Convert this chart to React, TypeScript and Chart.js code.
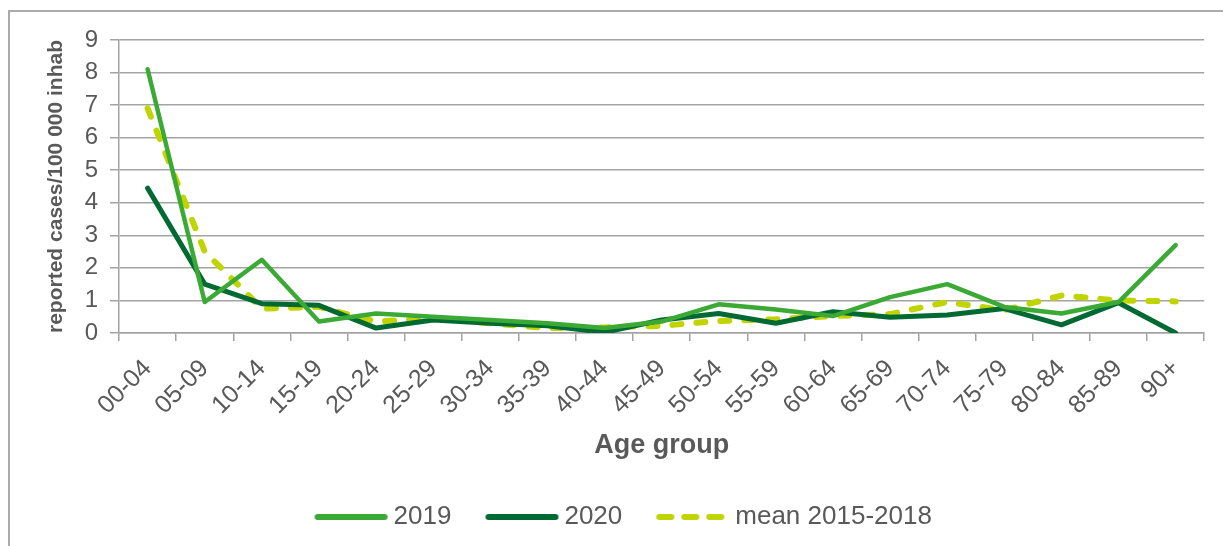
import React, { useEffect, useRef } from 'react';
import { Chart, registerables } from 'chart.js';

Chart.register(...registerables);

const ageGroups = ['00-04', '05-09', '10-14', '15-19', '20-24', '25-29', '30-34', '35-39', '40-44', '45-49', '50-54', '55-59', '60-64', '65-69', '70-74', '75-79', '80-84', '85-89', '90+'];
const cases2019 = [8.1, 0.95, 2.25, 0.35, 0.6, 0.5, 0.4, 0.3, 0.15, 0.35, 0.88, 0.72, 0.52, 1.1, 1.5, 0.8, 0.6, 0.95, 2.7];
const cases2020 = [4.45, 1.5, 0.9, 0.85, 0.15, 0.4, 0.3, 0.22, 0.02, 0.4, 0.6, 0.3, 0.65, 0.48, 0.55, 0.75, 0.25, 0.93, 0];
const mean20152018 = [6.9, 2.5, 0.75, 0.8, 0.35, 0.45, 0.3, 0.15, 0.17, 0.22, 0.37, 0.42, 0.52, 0.58, 0.95, 0.7, 1.15, 1.0, 0.97];
const yTicks = [0, 1, 2, 3, 4, 5, 6, 7, 8, 9];
const seriesLabels = ['2019', '2020', 'mean 2015-2018'];

const COLOR_2019 = '#3aaa35';
const COLOR_2020 = '#006a32';
const COLOR_MEAN = '#c0d400';
const GRID = '#a3a3a3';
const TEXT = '#595959';
const FONT = '"Liberation Sans", Arial, sans-serif';

function lineSample(color: string, width: number, dash?: number[]) {
  const c = document.createElement('canvas');
  c.width = 96;
  c.height = 10;
  const ctx = c.getContext('2d')!;
  ctx.strokeStyle = color;
  ctx.lineWidth = width;
  ctx.lineCap = 'round';
  if (dash) ctx.setLineDash(dash);
  ctx.beginPath();
  ctx.moveTo(25, 5);
  ctx.lineTo(dash ? 90 : 92, 5);
  ctx.stroke();
  return c;
}

const legendShift = {
  id: 'legendShift',
  afterLayout(chart: any) {
    const l = chart.legend;
    if (l) {
      l.left += 270.6;
      l.right += 270.6;
    }
  },
};

export default function App() {
  const ref = useRef<HTMLCanvasElement>(null);
  useEffect(() => {
    const samples = [lineSample(COLOR_2019, 6), lineSample(COLOR_2020, 6), lineSample(COLOR_MEAN, 6, [12, 13])];
    const chart = new Chart(ref.current!, {
      type: 'line',
      data: {
        labels: ageGroups,
        datasets: [
          { label: seriesLabels[0], data: cases2019, borderColor: COLOR_2019, backgroundColor: COLOR_2019, borderWidth: 4.5, pointRadius: 0, tension: 0, borderJoinStyle: 'round', borderCapStyle: 'round' },
          { label: seriesLabels[1], data: cases2020, borderColor: COLOR_2020, backgroundColor: COLOR_2020, borderWidth: 5, pointRadius: 0, tension: 0, borderJoinStyle: 'round', borderCapStyle: 'round' },
          { label: seriesLabels[2], data: mean20152018, borderColor: COLOR_MEAN, backgroundColor: COLOR_MEAN, borderWidth: 6, borderDash: [9, 15], pointRadius: 0, tension: 0, borderJoinStyle: 'round', borderCapStyle: 'round' },
        ],
      },
      options: {
        responsive: false,
        animation: false,
        layout: { padding: { top: 28, left: 0, right: 5, bottom: 6 } },
        plugins: {
          title: { display: false },
          tooltip: { enabled: false },
          legend: {
            display: true,
            position: 'bottom',
            align: 'start',
            labels: {
              usePointStyle: true,
              pointStyleWidth: 80,
              padding: 20,
              color: TEXT,
              font: { family: FONT, size: 26 },
              generateLabels: (c: any) =>
                (Chart.defaults.plugins.legend.labels.generateLabels as any)(c).map((it: any, i: number) => ({ ...it, pointStyle: samples[i], lineWidth: 0 })),
            },
          },
        },
        scales: {
          x: {
            type: 'category',
            offset: true,
            grid: { display: true, drawOnChartArea: false, drawTicks: true, tickLength: 8, offset: true, color: GRID, lineWidth: 1.5 },
            border: { display: true, color: GRID, width: 1.5 },
            ticks: {
              autoSkip: false,
              maxRotation: 45,
              minRotation: 45,
              padding: 13,
              color: TEXT,
              font: { family: FONT, size: 25 },
            },
            title: {
              display: true,
              text: 'Age group',
              color: TEXT,
              font: { family: FONT, size: 27, weight: 'bold' },
              padding: { top: -3.8, bottom: 22 },
            },
          },
          y: {
            min: 0,
            max: 9,
            afterBuildTicks: (s: any) => { s.ticks = yTicks.map((v) => ({ value: v })); },
            grid: { color: GRID, lineWidth: 1.5, tickLength: 9, drawTicks: true },
            border: { display: true, color: GRID, width: 1.5 },
            ticks: {
              padding: 12,
              color: TEXT,
              font: { family: FONT, size: 24 },
            },
            title: {
              display: true,
              text: 'reported cases/100 000 inhab',
              color: TEXT,
              font: { family: FONT, size: 21, weight: 'bold' },
              padding: { top: 34, bottom: 3.5 },
            },
          },
        },
      },
      plugins: [legendShift],
    });
    return () => chart.destroy();
  }, []);

  return (
    <div style={{ position: 'fixed', left: 0, top: 0, width: 1223, height: 546, overflow: 'hidden', background: '#fff' }}>
      <div style={{ position: 'absolute', left: 8, top: 10, width: 1400, height: 700, border: '2px solid #ababab', boxSizing: 'border-box' }}>
        <canvas ref={ref} width={1200} height={534} style={{ display: 'block' }} />
      </div>
    </div>
  );
}
